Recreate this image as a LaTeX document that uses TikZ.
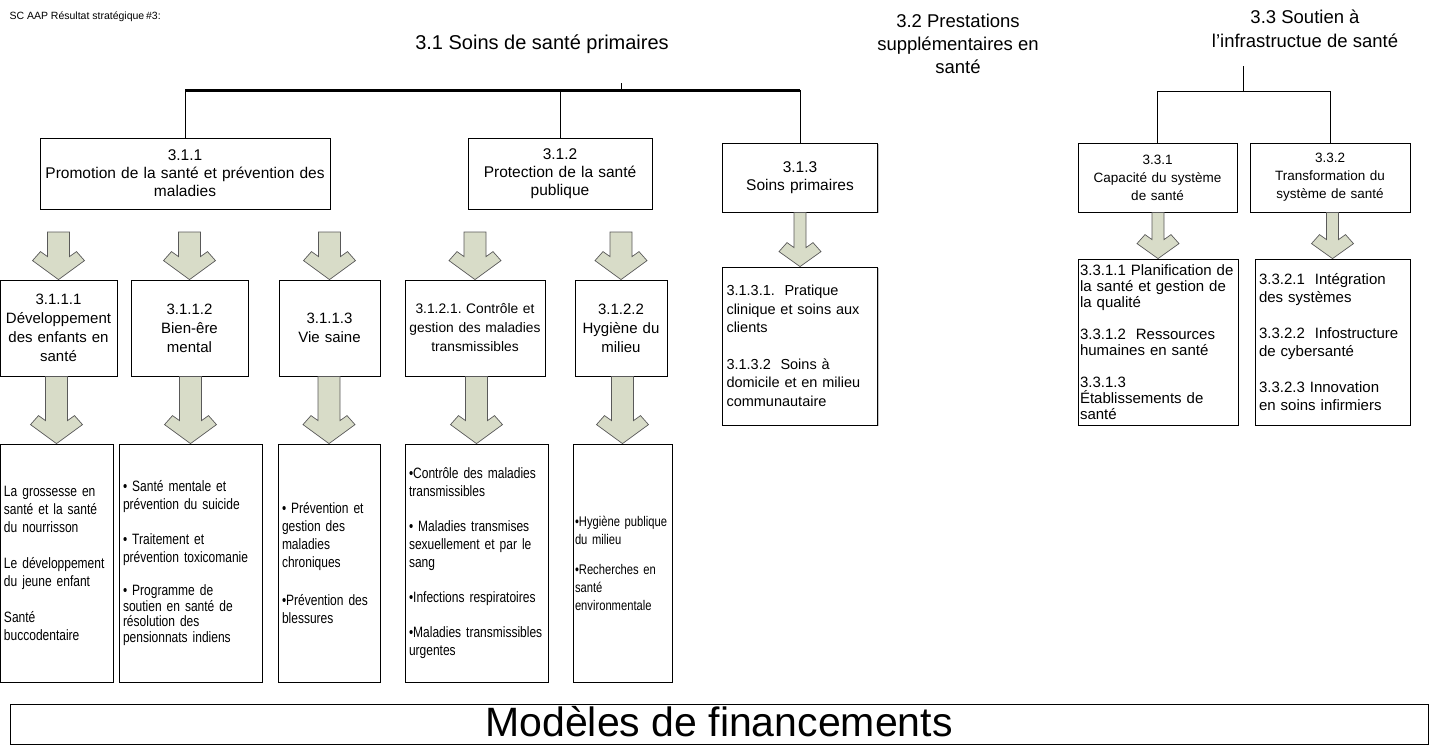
\documentclass[tikz,border=0pt]{standalone}
\usepackage{fontspec}
\setmainfont{Liberation Sans}
\newfontfamily\narrowfont{Liberation Sans}[FakeStretch=0.8]
\usetikzlibrary{calc,shadows}
\frenchspacing

\definecolor{arrowgreen}{RGB}{216,220,200}

\newcommand{\rowone}{\fontsize{15.5}{18}\selectfont}
\newcommand{\rowtwo}{\fontsize{15}{19}\selectfont}
\newcommand{\rowlist}{\narrowfont\fontsize{15}{18}\selectfont}

% wide block arrow, shaft top at the y of #1, tip on #2.north
\newcommand{\fatarrow}[2]{%
  \path[arrowbody] let \p1=(#1), \p2=(#2.north) in
    (\x2-11pt,\y1) -- (\x2-11pt,\y2+23pt) -- (\x2-18pt,\y2+28pt) -- (\x2-26pt,\y2+19pt)
    -- (\x2,\y2) -- (\x2+26pt,\y2+19pt) -- (\x2+18pt,\y2+28pt) -- (\x2+11pt,\y2+23pt)
    -- (\x2+11pt,\y1) -- cycle;}
% slim one
\newcommand{\slimarrow}[2]{%
  \path[arrowbody] let \p1=(#1), \p2=(#2.north) in
    (\x2-6pt,\y1) -- (\x2-6pt,\y2+19pt) -- (\x2-13pt,\y2+24pt) -- (\x2-21pt,\y2+15pt)
    -- (\x2,\y2) -- (\x2+21pt,\y2+15pt) -- (\x2+13pt,\y2+24pt) -- (\x2+6pt,\y2+19pt)
    -- (\x2+6pt,\y1) -- cycle;}

\tikzset{
  box/.style={draw, fill=white, line width=0.8pt, inner sep=4pt, align=center,
    drop shadow={shadow xshift=1.2pt, shadow yshift=-1.2pt, opacity=0.45}},
  listbox/.style={box, align=left},
  arrowbody/.style={draw=black!65, fill=arrowgreen, line width=0.7pt, line join=miter},
  mainbar/.style={line width=3pt},
  link/.style={line width=0.8pt}
}

\begin{document}
\begin{tikzpicture}[x=1pt,y=-1pt]
\useasboundingbox (0,0) rectangle (1432,747);

% titles
\node[anchor=west, font=\fontsize{10.5}{12}\selectfont] (saap) at (6,17) {SC AAP Résultat stratégique\,\#3:};
\node[font=\fontsize{20}{24}\selectfont] (t31) at (542,44) {3.1 Soins de santé primaires};
\node[align=center, font=\fontsize{18.5}{23}\selectfont] (t32) at (958,44) {3.2 Prestations\\supplémentaires en\\santé};
\node[align=center, font=\fontsize{18.5}{24}\selectfont] (t33) at (1305,29) {3.3 Soutien à\\l’infrastructue de santé};

% first level
\node[box, font=\rowone, text width=282pt, minimum height=71pt] (b311) at (185,173.5) {3.1.1\\Promotion de la santé et prévention des\\maladies};
\node[box, font=\rowone, text width=176pt, minimum height=71pt] (b312) at (560,173.5) {3.1.2\\Protection de la santé\\publique};
\node[box, font=\rowone, text width=147pt, minimum height=69pt] (b313) at (800,177.5) {3.1.3\\Soins primaires};
\node[box, font=\fontsize{13.5}{18}\selectfont, text width=151pt, minimum height=69pt] (b331) at (1157.5,177.5) {3.3.1\\Capacité du système\\de santé};
\node[box, font=\fontsize{13.5}{18}\selectfont, text width=152pt, minimum height=69pt] (b332) at (1330,177.5) {3.3.2\\Transformation du\\système de santé};

% bars
\coordinate (barL) at (185,90);
\coordinate (barR) at (800,90);
\coordinate (tick) at (621,83);
\draw[mainbar] (barL) -- (barR);
\draw[link] (tick) -- (tick |- barL);
\draw[link] (barL) -- (b311.north);
\draw[link] (b312.north |- barL) -- (b312.north);
\draw[link] (barR) -- (b313.north);

\coordinate (top33) at (1243.75,66);
\coordinate (j33) at (1243.75,91);
\draw[link] (top33) -- (j33);
\draw[link] (b331.north) |- (b332.north |- j33) -- (b332.north);

% second level
\node[box, font=\rowtwo, inner sep=3pt, text width=111pt, minimum height=96pt] (b3111) at (58.5,328) {3.1.1.1\\Développement\\des enfants en\\santé};
\node[box, font=\rowtwo, text width=109pt, minimum height=96pt] (b3112) at (189.5,328) {3.1.1.2\\Bien-êre\\mental};
\node[box, font=\rowtwo, text width=93pt, minimum height=96pt] (b3113) at (329.5,328) {3.1.1.3\\Vie saine};
\node[box, font=\fontsize{13.8}{19}\selectfont, inner sep=3pt, text width=134pt, minimum height=96pt] (b3121) at (475,328) {3.1.2.1. Contrôle et\\gestion des maladies\\transmissibles};
\node[box, font=\rowtwo, text width=84pt, minimum height=96pt] (b3122) at (621,328) {3.1.2.2\\Hygiène du\\milieu};

\node[listbox, font=\fontsize{14.5}{18.5}\selectfont, text width=147pt, minimum height=158pt] (c313) at (800,346) {3.1.3.1.~ Pratique\\clinique et soins aux\\clients\\[18pt]3.1.3.2~ Soins à\\domicile et en milieu\\communautaire};
\node[listbox, font=\fontsize{15}{16}\selectfont, inner sep=2pt, text width=156pt, minimum height=166pt] (c331) at (1158,342) {3.3.1.1 Planification de\\la santé et gestion de\\la qualité\\[16pt]3.3.1.2~ Ressources\\humaines en santé\\[16pt]3.3.1.3\\Établissements de\\santé};
\node[listbox, font=\fontsize{15}{18.5}\selectfont, text width=147pt, minimum height=166pt] (c332) at (1332.5,342) {3.3.2.1~ Intégration\\des systèmes\\[17pt]3.3.2.2~ Infostructure\\de cybersanté\\[17pt]3.3.2.3 Innovation\\en soins infirmiers};

% third level
\node[listbox, font=\rowlist, text width=105pt, minimum height=238pt] (c3111) at (56.5,563) {La grossesse en\\santé et la santé\\du nourrisson\\[18pt]Le développement\\du jeune enfant\\[18pt]Santé\\buccodentaire};
\node[listbox, font=\rowlist, text width=135pt, minimum height=238pt] (c3112) at (190.5,563) {• Santé mentale et\\prévention du suicide\\[17pt]• Traitement et\\prévention toxicomanie\\[15pt]• Programme de\\[-2.5pt]soutien en santé de\\[-2.5pt]résolution des\\[-2.5pt]pensionnats indiens};
\node[listbox, font=\rowlist, text width=94pt, minimum height=238pt] (c3113) at (329,563) {• Prévention et\\gestion des\\maladies\\chroniques\\[20pt]•Prévention des\\blessures};
\node[listbox, font=\rowlist, text width=135pt, minimum height=238pt] (c3121) at (476.5,563) {•Contrôle des maladies\\transmissibles\\[17pt]• Maladies transmises\\sexuellement et par le\\sang\\[17pt]•Infections respiratoires\\[17pt]•Maladies transmissibles\\urgentes};
\node[listbox, font=\narrowfont\fontsize{14}{18}\selectfont, inner sep=2pt, text width=95pt, minimum height=238pt] (c3122) at (622.5,563) {•Hygiène publique\\du milieu\\[12pt]•Recherches en\\santé\\environmentale};

% arrows
\coordinate (row2top) at (0,232);
\fatarrow{row2top}{b3111}
\fatarrow{row2top}{b3112}
\fatarrow{row2top}{b3113}
\fatarrow{row2top}{b3121}
\fatarrow{row2top}{b3122}
\fatarrow{b3111.south}{c3111}
\fatarrow{b3112.south}{c3112}
\fatarrow{b3113.south}{c3113}
\fatarrow{b3121.south}{c3121}
\fatarrow{b3122.south}{c3122}
\slimarrow{b313.south}{c313}
\slimarrow{b331.south}{c331}
\slimarrow{b332.south}{c332}

% funding
\node[draw, line width=0.8pt, fill=white, inner sep=2pt, text height=30pt, text depth=6pt, minimum width=1418pt,
  font=\fontsize{41}{46}\selectfont, drop shadow={shadow xshift=1.2pt, shadow yshift=-1.2pt, opacity=0.45}] (fund) at (719,724) {Modèles de financements};
\end{tikzpicture}
\end{document}
